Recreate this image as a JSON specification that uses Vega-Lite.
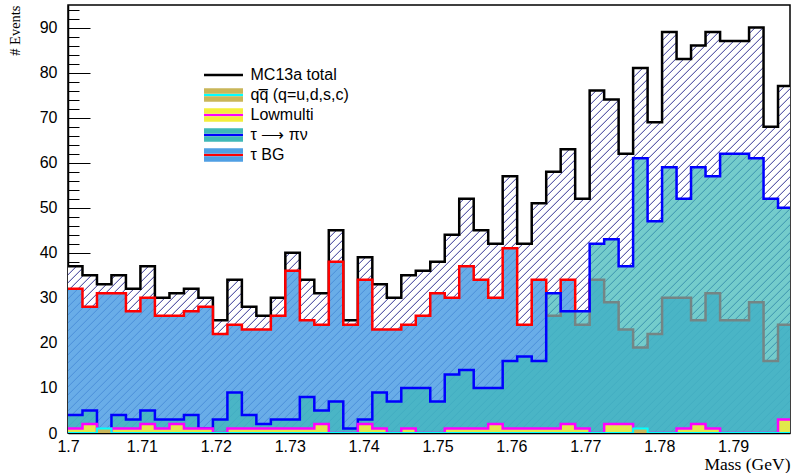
{
  "$schema": "https://vega.github.io/schema/vega-lite/v6.json",
  "width": 722,
  "height": 428,
  "autosize": {"type": "none"},
  "padding": {"left": 68, "top": 5, "right": 1, "bottom": 40},
  "background": "white",
  "config": {
    "font": "Liberation Sans",
    "view": {"stroke": "black", "strokeWidth": 1.5}
  },
  "datasets": {
    "hist": [
      {"m": 1.70000, "total": 37, "tbg": 32, "pinu": 4, "low": 1, "qq": 0},
      {"m": 1.70196, "total": 35, "tbg": 28, "pinu": 5, "low": 2, "qq": 0},
      {"m": 1.70392, "total": 33, "tbg": 31, "pinu": 0, "low": 0, "qq": 1},
      {"m": 1.70588, "total": 35, "tbg": 31, "pinu": 4, "low": 1, "qq": 0},
      {"m": 1.70784, "total": 32, "tbg": 27, "pinu": 3, "low": 1, "qq": 0},
      {"m": 1.70980, "total": 37, "tbg": 30, "pinu": 5, "low": 2, "qq": 0},
      {"m": 1.71176, "total": 30, "tbg": 26, "pinu": 3, "low": 1, "qq": 0},
      {"m": 1.71373, "total": 31, "tbg": 26, "pinu": 3, "low": 2, "qq": 0},
      {"m": 1.71569, "total": 32, "tbg": 27, "pinu": 4, "low": 1, "qq": 0},
      {"m": 1.71765, "total": 30, "tbg": 28, "pinu": 1, "low": 1, "qq": 0},
      {"m": 1.71961, "total": 25, "tbg": 22, "pinu": 3, "low": 0, "qq": 0},
      {"m": 1.72157, "total": 34, "tbg": 24, "pinu": 9, "low": 1, "qq": 0},
      {"m": 1.72353, "total": 28, "tbg": 23, "pinu": 4, "low": 1, "qq": 0},
      {"m": 1.72549, "total": 26, "tbg": 23, "pinu": 2, "low": 1, "qq": 0},
      {"m": 1.72745, "total": 30, "tbg": 26, "pinu": 3, "low": 1, "qq": 0},
      {"m": 1.72941, "total": 40, "tbg": 36, "pinu": 3, "low": 1, "qq": 0},
      {"m": 1.73137, "total": 34, "tbg": 25, "pinu": 8, "low": 1, "qq": 0},
      {"m": 1.73333, "total": 31, "tbg": 24, "pinu": 5, "low": 2, "qq": 0},
      {"m": 1.73529, "total": 45, "tbg": 38, "pinu": 7, "low": 0, "qq": 0},
      {"m": 1.73725, "total": 25, "tbg": 24, "pinu": 1, "low": 0, "qq": 0},
      {"m": 1.73922, "total": 39, "tbg": 34, "pinu": 3, "low": 2, "qq": 0},
      {"m": 1.74118, "total": 33, "tbg": 23, "pinu": 9, "low": 1, "qq": 0},
      {"m": 1.74314, "total": 30, "tbg": 23, "pinu": 7, "low": 0, "qq": 0},
      {"m": 1.74510, "total": 35, "tbg": 24, "pinu": 10, "low": 1, "qq": 0},
      {"m": 1.74706, "total": 36, "tbg": 26, "pinu": 10, "low": 0, "qq": 0},
      {"m": 1.74902, "total": 38, "tbg": 31, "pinu": 7, "low": 0, "qq": 0},
      {"m": 1.75098, "total": 44, "tbg": 30, "pinu": 13, "low": 1, "qq": 0},
      {"m": 1.75294, "total": 52, "tbg": 37, "pinu": 14, "low": 1, "qq": 0},
      {"m": 1.75490, "total": 45, "tbg": 34, "pinu": 10, "low": 1, "qq": 0},
      {"m": 1.75686, "total": 42, "tbg": 30, "pinu": 10, "low": 2, "qq": 0},
      {"m": 1.75882, "total": 57, "tbg": 41, "pinu": 16, "low": 1, "qq": 0},
      {"m": 1.76078, "total": 42, "tbg": 24, "pinu": 17, "low": 1, "qq": 0},
      {"m": 1.76275, "total": 51, "tbg": 34, "pinu": 16, "low": 1, "qq": 0},
      {"m": 1.76471, "total": 58, "tbg": 26, "pinu": 31, "low": 1, "qq": 0},
      {"m": 1.76667, "total": 63, "tbg": 34, "pinu": 27, "low": 2, "qq": 0},
      {"m": 1.76863, "total": 52, "tbg": 24, "pinu": 27, "low": 1, "qq": 0},
      {"m": 1.77059, "total": 76, "tbg": 34, "pinu": 42, "low": 0, "qq": 0},
      {"m": 1.77255, "total": 74, "tbg": 29, "pinu": 43, "low": 2, "qq": 0},
      {"m": 1.77451, "total": 62, "tbg": 23, "pinu": 37, "low": 2, "qq": 0},
      {"m": 1.77647, "total": 81, "tbg": 19, "pinu": 61, "low": 0, "qq": 1},
      {"m": 1.77843, "total": 69, "tbg": 22, "pinu": 47, "low": 0, "qq": 0},
      {"m": 1.78039, "total": 89, "tbg": 30, "pinu": 59, "low": 0, "qq": 0},
      {"m": 1.78235, "total": 83, "tbg": 30, "pinu": 52, "low": 1, "qq": 0},
      {"m": 1.78431, "total": 86, "tbg": 25, "pinu": 59, "low": 2, "qq": 0},
      {"m": 1.78627, "total": 89, "tbg": 31, "pinu": 57, "low": 1, "qq": 0},
      {"m": 1.78824, "total": 87, "tbg": 25, "pinu": 62, "low": 0, "qq": 0},
      {"m": 1.79020, "total": 87, "tbg": 25, "pinu": 62, "low": 0, "qq": 0},
      {"m": 1.79216, "total": 90, "tbg": 29, "pinu": 61, "low": 0, "qq": 0},
      {"m": 1.79412, "total": 68, "tbg": 16, "pinu": 52, "low": 0, "qq": 0},
      {"m": 1.79608, "total": 77, "tbg": 24, "pinu": 50, "low": 3, "qq": 0},
      {"m": 1.79804, "total": 77, "tbg": 24, "pinu": 50, "low": 3, "qq": 0}
    ]
  },
  "data": {"name": "hist"},
  "transform": [
    {"fold": ["total", "tbg", "pinu", "low", "qq"], "as": ["part", "n"]}
  ],
  "encoding": {
    "x": {
      "field": "m",
      "type": "quantitative",
      "scale": {"domain": [1.7, 1.7977], "nice": false, "zero": false},
      "axis": {
        "values": [1.7, 1.702, 1.704, 1.706, 1.708, 1.71, 1.712, 1.714, 1.716, 1.718, 1.72, 1.722, 1.724, 1.726, 1.728, 1.73, 1.732, 1.734, 1.736, 1.738, 1.74, 1.742, 1.744, 1.746, 1.748, 1.75, 1.752, 1.754, 1.756, 1.758, 1.76, 1.762, 1.764, 1.766, 1.768, 1.77, 1.772, 1.774, 1.776, 1.778, 1.78, 1.782, 1.784, 1.786, 1.788, 1.79, 1.792, 1.794, 1.796],
        "labelExpr": "abs(datum.value*100 - round(datum.value*100)) < 0.01 ? (round(datum.value*100) % 10 == 0 ? format(datum.value, '.1f') : format(datum.value, '.2f')) : ''",
        "tickSize": {"condition": {"test": "abs(datum.value*100 - round(datum.value*100)) < 0.01", "value": -12}, "value": -6},
        "tickColor": "black",
        "tickWidth": 1,
        "domainColor": "black",
        "domainWidth": 1.5,
        "grid": false,
        "labelFont": "Liberation Sans",
        "labelFontSize": 16,
        "labelColor": "black",
        "labelPadding": 17,
        "labelFlush": false,
        "labelOverlap": false,
        "title": "Mass (GeV)",
        "titleFont": "Liberation Serif",
        "titleFontSize": 17.5,
        "titleFontWeight": "normal",
        "titleColor": "black",
        "titleAlign": "right",
        "titleBaseline": "alphabetic",
        "titleX": 722,
        "titleY": 36
      }
    },
    "y": {
      "field": "n",
      "type": "quantitative",
      "scale": {"domain": [0, 95], "nice": false},
      "axis": {
        "values": [0, 2, 4, 6, 8, 10, 12, 14, 16, 18, 20, 22, 24, 26, 28, 30, 32, 34, 36, 38, 40, 42, 44, 46, 48, 50, 52, 54, 56, 58, 60, 62, 64, 66, 68, 70, 72, 74, 76, 78, 80, 82, 84, 86, 88, 90, 92, 94],
        "labelExpr": "datum.value % 10 == 0 ? datum.label : ''",
        "tickSize": {"condition": {"test": "datum.value % 10 == 0", "value": -22}, "value": -11},
        "tickColor": "black",
        "tickWidth": 1,
        "domainColor": "black",
        "domainWidth": 1.5,
        "grid": false,
        "labelFont": "Liberation Sans",
        "labelFontSize": 16,
        "labelColor": "black",
        "labelPadding": 33,
        "labelOverlap": false,
        "title": "# Events",
        "titleFont": "Liberation Serif",
        "titleFontSize": 14.5,
        "titleFontWeight": "normal",
        "titleColor": "black",
        "titleAngle": 270,
        "titleAlign": "right",
        "titleBaseline": "middle",
        "titleX": -53,
        "titleY": 0
      }
    }
  },
  "layer": [
    {
      "transform": [{"filter": "datum.part == 'total'"}],
      "mark": {
        "type": "area",
        "interpolate": "step-after",
        "clip": true,
        "fill": {
          "gradient": "linear",
          "x1": 0, "y1": 0, "x2": 1.3138, "y2": 0.7353,
          "stops": [
            {"offset":0,"color":"#fff"},{"offset":0.0048,"color":"#fff"},{"offset":0.0064,"color":"#2b2b8f"},
            {"offset":0.0064,"color":"#fff"},{"offset":0.0112,"color":"#fff"},{"offset":0.0128,"color":"#2b2b8f"},
            {"offset":0.0128,"color":"#fff"},{"offset":0.0176,"color":"#fff"},{"offset":0.0192,"color":"#2b2b8f"},
            {"offset":0.0192,"color":"#fff"},{"offset":0.024,"color":"#fff"},{"offset":0.0256,"color":"#2b2b8f"},
            {"offset":0.0256,"color":"#fff"},{"offset":0.0304,"color":"#fff"},{"offset":0.032,"color":"#2b2b8f"},
            {"offset":0.032,"color":"#fff"},{"offset":0.0368,"color":"#fff"},{"offset":0.0384,"color":"#2b2b8f"},
            {"offset":0.0384,"color":"#fff"},{"offset":0.0432,"color":"#fff"},{"offset":0.0448,"color":"#2b2b8f"},
            {"offset":0.0448,"color":"#fff"},{"offset":0.0496,"color":"#fff"},{"offset":0.0512,"color":"#2b2b8f"},
            {"offset":0.0512,"color":"#fff"},{"offset":0.056,"color":"#fff"},{"offset":0.0576,"color":"#2b2b8f"},
            {"offset":0.0576,"color":"#fff"},{"offset":0.0624,"color":"#fff"},{"offset":0.064,"color":"#2b2b8f"},
            {"offset":0.064,"color":"#fff"},{"offset":0.0688,"color":"#fff"},{"offset":0.0704,"color":"#2b2b8f"},
            {"offset":0.0704,"color":"#fff"},{"offset":0.0752,"color":"#fff"},{"offset":0.0768,"color":"#2b2b8f"},
            {"offset":0.0768,"color":"#fff"},{"offset":0.0816,"color":"#fff"},{"offset":0.0832,"color":"#2b2b8f"},
            {"offset":0.0832,"color":"#fff"},{"offset":0.088,"color":"#fff"},{"offset":0.0896,"color":"#2b2b8f"},
            {"offset":0.0896,"color":"#fff"},{"offset":0.0944,"color":"#fff"},{"offset":0.096,"color":"#2b2b8f"},
            {"offset":0.096,"color":"#fff"},{"offset":0.1008,"color":"#fff"},{"offset":0.1024,"color":"#2b2b8f"},
            {"offset":0.1024,"color":"#fff"},{"offset":0.1072,"color":"#fff"},{"offset":0.1088,"color":"#2b2b8f"},
            {"offset":0.1088,"color":"#fff"},{"offset":0.1136,"color":"#fff"},{"offset":0.1152,"color":"#2b2b8f"},
            {"offset":0.1152,"color":"#fff"},{"offset":0.12,"color":"#fff"},{"offset":0.1216,"color":"#2b2b8f"},
            {"offset":0.1216,"color":"#fff"},{"offset":0.1264,"color":"#fff"},{"offset":0.128,"color":"#2b2b8f"},
            {"offset":0.128,"color":"#fff"},{"offset":0.1328,"color":"#fff"},{"offset":0.1344,"color":"#2b2b8f"},
            {"offset":0.1344,"color":"#fff"},{"offset":0.1392,"color":"#fff"},{"offset":0.1408,"color":"#2b2b8f"},
            {"offset":0.1408,"color":"#fff"},{"offset":0.1456,"color":"#fff"},{"offset":0.1472,"color":"#2b2b8f"},
            {"offset":0.1472,"color":"#fff"},{"offset":0.152,"color":"#fff"},{"offset":0.1536,"color":"#2b2b8f"},
            {"offset":0.1536,"color":"#fff"},{"offset":0.1584,"color":"#fff"},{"offset":0.16,"color":"#2b2b8f"},
            {"offset":0.16,"color":"#fff"},{"offset":0.1648,"color":"#fff"},{"offset":0.1664,"color":"#2b2b8f"},
            {"offset":0.1664,"color":"#fff"},{"offset":0.1712,"color":"#fff"},{"offset":0.1728,"color":"#2b2b8f"},
            {"offset":0.1728,"color":"#fff"},{"offset":0.1776,"color":"#fff"},{"offset":0.1792,"color":"#2b2b8f"},
            {"offset":0.1792,"color":"#fff"},{"offset":0.184,"color":"#fff"},{"offset":0.1856,"color":"#2b2b8f"},
            {"offset":0.1856,"color":"#fff"},{"offset":0.1904,"color":"#fff"},{"offset":0.192,"color":"#2b2b8f"},
            {"offset":0.192,"color":"#fff"},{"offset":0.1968,"color":"#fff"},{"offset":0.1984,"color":"#2b2b8f"},
            {"offset":0.1984,"color":"#fff"},{"offset":0.2032,"color":"#fff"},{"offset":0.2048,"color":"#2b2b8f"},
            {"offset":0.2048,"color":"#fff"},{"offset":0.2096,"color":"#fff"},{"offset":0.2112,"color":"#2b2b8f"},
            {"offset":0.2112,"color":"#fff"},{"offset":0.216,"color":"#fff"},{"offset":0.2176,"color":"#2b2b8f"},
            {"offset":0.2176,"color":"#fff"},{"offset":0.2224,"color":"#fff"},{"offset":0.224,"color":"#2b2b8f"},
            {"offset":0.224,"color":"#fff"},{"offset":0.2288,"color":"#fff"},{"offset":0.2304,"color":"#2b2b8f"},
            {"offset":0.2304,"color":"#fff"},{"offset":0.2352,"color":"#fff"},{"offset":0.2368,"color":"#2b2b8f"},
            {"offset":0.2368,"color":"#fff"},{"offset":0.2416,"color":"#fff"},{"offset":0.2432,"color":"#2b2b8f"},
            {"offset":0.2432,"color":"#fff"},{"offset":0.248,"color":"#fff"},{"offset":0.2496,"color":"#2b2b8f"},
            {"offset":0.2496,"color":"#fff"},{"offset":0.2544,"color":"#fff"},{"offset":0.256,"color":"#2b2b8f"},
            {"offset":0.256,"color":"#fff"},{"offset":0.2608,"color":"#fff"},{"offset":0.2624,"color":"#2b2b8f"},
            {"offset":0.2624,"color":"#fff"},{"offset":0.2672,"color":"#fff"},{"offset":0.2688,"color":"#2b2b8f"},
            {"offset":0.2688,"color":"#fff"},{"offset":0.2736,"color":"#fff"},{"offset":0.2752,"color":"#2b2b8f"},
            {"offset":0.2752,"color":"#fff"},{"offset":0.28,"color":"#fff"},{"offset":0.2816,"color":"#2b2b8f"},
            {"offset":0.2816,"color":"#fff"},{"offset":0.2864,"color":"#fff"},{"offset":0.288,"color":"#2b2b8f"},
            {"offset":0.288,"color":"#fff"},{"offset":0.2928,"color":"#fff"},{"offset":0.2944,"color":"#2b2b8f"},
            {"offset":0.2944,"color":"#fff"},{"offset":0.2992,"color":"#fff"},{"offset":0.3008,"color":"#2b2b8f"},
            {"offset":0.3008,"color":"#fff"},{"offset":0.3056,"color":"#fff"},{"offset":0.3072,"color":"#2b2b8f"},
            {"offset":0.3072,"color":"#fff"},{"offset":0.312,"color":"#fff"},{"offset":0.3136,"color":"#2b2b8f"},
            {"offset":0.3136,"color":"#fff"},{"offset":0.3184,"color":"#fff"},{"offset":0.32,"color":"#2b2b8f"},
            {"offset":0.32,"color":"#fff"},{"offset":0.3248,"color":"#fff"},{"offset":0.3264,"color":"#2b2b8f"},
            {"offset":0.3264,"color":"#fff"},{"offset":0.3312,"color":"#fff"},{"offset":0.3328,"color":"#2b2b8f"},
            {"offset":0.3328,"color":"#fff"},{"offset":0.3376,"color":"#fff"},{"offset":0.3392,"color":"#2b2b8f"},
            {"offset":0.3392,"color":"#fff"},{"offset":0.344,"color":"#fff"},{"offset":0.3456,"color":"#2b2b8f"},
            {"offset":0.3456,"color":"#fff"},{"offset":0.3504,"color":"#fff"},{"offset":0.352,"color":"#2b2b8f"},
            {"offset":0.352,"color":"#fff"},{"offset":0.3568,"color":"#fff"},{"offset":0.3584,"color":"#2b2b8f"},
            {"offset":0.3584,"color":"#fff"},{"offset":0.3632,"color":"#fff"},{"offset":0.3648,"color":"#2b2b8f"},
            {"offset":0.3648,"color":"#fff"},{"offset":0.3696,"color":"#fff"},{"offset":0.3712,"color":"#2b2b8f"},
            {"offset":0.3712,"color":"#fff"},{"offset":0.376,"color":"#fff"},{"offset":0.3776,"color":"#2b2b8f"},
            {"offset":0.3776,"color":"#fff"},{"offset":0.3824,"color":"#fff"},{"offset":0.384,"color":"#2b2b8f"},
            {"offset":0.384,"color":"#fff"},{"offset":0.3888,"color":"#fff"},{"offset":0.3904,"color":"#2b2b8f"},
            {"offset":0.3904,"color":"#fff"},{"offset":0.3952,"color":"#fff"},{"offset":0.3968,"color":"#2b2b8f"},
            {"offset":0.3968,"color":"#fff"},{"offset":0.4016,"color":"#fff"},{"offset":0.4032,"color":"#2b2b8f"},
            {"offset":0.4032,"color":"#fff"},{"offset":0.408,"color":"#fff"},{"offset":0.4096,"color":"#2b2b8f"},
            {"offset":0.4096,"color":"#fff"},{"offset":0.4144,"color":"#fff"},{"offset":0.416,"color":"#2b2b8f"},
            {"offset":0.416,"color":"#fff"},{"offset":0.4208,"color":"#fff"},{"offset":0.4224,"color":"#2b2b8f"},
            {"offset":0.4224,"color":"#fff"},{"offset":0.4272,"color":"#fff"},{"offset":0.4288,"color":"#2b2b8f"},
            {"offset":0.4288,"color":"#fff"},{"offset":0.4336,"color":"#fff"},{"offset":0.4352,"color":"#2b2b8f"},
            {"offset":0.4352,"color":"#fff"},{"offset":0.44,"color":"#fff"},{"offset":0.4416,"color":"#2b2b8f"},
            {"offset":0.4416,"color":"#fff"},{"offset":0.4464,"color":"#fff"},{"offset":0.448,"color":"#2b2b8f"},
            {"offset":0.448,"color":"#fff"},{"offset":0.4528,"color":"#fff"},{"offset":0.4544,"color":"#2b2b8f"},
            {"offset":0.4544,"color":"#fff"},{"offset":0.4592,"color":"#fff"},{"offset":0.4608,"color":"#2b2b8f"},
            {"offset":0.4608,"color":"#fff"},{"offset":0.4656,"color":"#fff"},{"offset":0.4672,"color":"#2b2b8f"},
            {"offset":0.4672,"color":"#fff"},{"offset":0.472,"color":"#fff"},{"offset":0.4736,"color":"#2b2b8f"},
            {"offset":0.4736,"color":"#fff"},{"offset":0.4784,"color":"#fff"},{"offset":0.48,"color":"#2b2b8f"},
            {"offset":0.48,"color":"#fff"},{"offset":0.4848,"color":"#fff"},{"offset":0.4864,"color":"#2b2b8f"},
            {"offset":0.4864,"color":"#fff"},{"offset":0.4912,"color":"#fff"},{"offset":0.4928,"color":"#2b2b8f"},
            {"offset":0.4928,"color":"#fff"},{"offset":0.4976,"color":"#fff"},{"offset":0.4992,"color":"#2b2b8f"},
            {"offset":0.4992,"color":"#fff"},{"offset":0.504,"color":"#fff"},{"offset":0.5056,"color":"#2b2b8f"},
            {"offset":0.5056,"color":"#fff"},{"offset":0.5104,"color":"#fff"},{"offset":0.512,"color":"#2b2b8f"},
            {"offset":0.512,"color":"#fff"},{"offset":0.5168,"color":"#fff"},{"offset":0.5184,"color":"#2b2b8f"},
            {"offset":0.5184,"color":"#fff"},{"offset":0.5232,"color":"#fff"},{"offset":0.5248,"color":"#2b2b8f"},
            {"offset":0.5248,"color":"#fff"},{"offset":0.5296,"color":"#fff"},{"offset":0.5312,"color":"#2b2b8f"},
            {"offset":0.5312,"color":"#fff"},{"offset":0.536,"color":"#fff"},{"offset":0.5376,"color":"#2b2b8f"},
            {"offset":0.5376,"color":"#fff"},{"offset":0.5424,"color":"#fff"},{"offset":0.544,"color":"#2b2b8f"},
            {"offset":0.544,"color":"#fff"},{"offset":0.5488,"color":"#fff"},{"offset":0.5504,"color":"#2b2b8f"},
            {"offset":0.5504,"color":"#fff"},{"offset":0.5552,"color":"#fff"},{"offset":0.5568,"color":"#2b2b8f"},
            {"offset":0.5568,"color":"#fff"},{"offset":0.5616,"color":"#fff"},{"offset":0.5632,"color":"#2b2b8f"},
            {"offset":0.5632,"color":"#fff"},{"offset":0.568,"color":"#fff"},{"offset":0.5696,"color":"#2b2b8f"},
            {"offset":0.5696,"color":"#fff"},{"offset":0.5744,"color":"#fff"},{"offset":0.576,"color":"#2b2b8f"},
            {"offset":0.576,"color":"#fff"},{"offset":0.5808,"color":"#fff"},{"offset":0.5824,"color":"#2b2b8f"},
            {"offset":0.5824,"color":"#fff"},{"offset":0.5872,"color":"#fff"},{"offset":0.5888,"color":"#2b2b8f"},
            {"offset":0.5888,"color":"#fff"},{"offset":0.5936,"color":"#fff"},{"offset":0.5952,"color":"#2b2b8f"},
            {"offset":0.5952,"color":"#fff"},{"offset":0.6,"color":"#fff"},{"offset":0.6016,"color":"#2b2b8f"},
            {"offset":0.6016,"color":"#fff"},{"offset":0.6064,"color":"#fff"},{"offset":0.608,"color":"#2b2b8f"},
            {"offset":0.608,"color":"#fff"},{"offset":0.6128,"color":"#fff"},{"offset":0.6144,"color":"#2b2b8f"},
            {"offset":0.6144,"color":"#fff"},{"offset":0.6192,"color":"#fff"},{"offset":0.6208,"color":"#2b2b8f"},
            {"offset":0.6208,"color":"#fff"},{"offset":0.6256,"color":"#fff"},{"offset":0.6272,"color":"#2b2b8f"},
            {"offset":0.6272,"color":"#fff"},{"offset":0.632,"color":"#fff"},{"offset":0.6336,"color":"#2b2b8f"},
            {"offset":0.6336,"color":"#fff"},{"offset":0.6384,"color":"#fff"},{"offset":0.64,"color":"#2b2b8f"},
            {"offset":0.64,"color":"#fff"},{"offset":0.6448,"color":"#fff"},{"offset":0.6464,"color":"#2b2b8f"},
            {"offset":0.6464,"color":"#fff"},{"offset":0.6512,"color":"#fff"},{"offset":0.6528,"color":"#2b2b8f"},
            {"offset":0.6528,"color":"#fff"},{"offset":0.6576,"color":"#fff"},{"offset":0.6592,"color":"#2b2b8f"},
            {"offset":0.6592,"color":"#fff"},{"offset":0.664,"color":"#fff"},{"offset":0.6656,"color":"#2b2b8f"},
            {"offset":0.6656,"color":"#fff"},{"offset":0.6704,"color":"#fff"},{"offset":0.672,"color":"#2b2b8f"},
            {"offset":0.672,"color":"#fff"},{"offset":0.6768,"color":"#fff"},{"offset":0.6784,"color":"#2b2b8f"},
            {"offset":0.6784,"color":"#fff"},{"offset":0.6832,"color":"#fff"},{"offset":0.6848,"color":"#2b2b8f"},
            {"offset":0.6848,"color":"#fff"},{"offset":0.6896,"color":"#fff"},{"offset":0.6912,"color":"#2b2b8f"},
            {"offset":0.6912,"color":"#fff"},{"offset":0.696,"color":"#fff"},{"offset":0.6976,"color":"#2b2b8f"},
            {"offset":0.6976,"color":"#fff"},{"offset":0.7024,"color":"#fff"},{"offset":0.704,"color":"#2b2b8f"},
            {"offset":0.704,"color":"#fff"},{"offset":0.7088,"color":"#fff"},{"offset":0.7104,"color":"#2b2b8f"},
            {"offset":0.7104,"color":"#fff"},{"offset":0.7152,"color":"#fff"},{"offset":0.7168,"color":"#2b2b8f"},
            {"offset":0.7168,"color":"#fff"},{"offset":0.7216,"color":"#fff"},{"offset":0.7232,"color":"#2b2b8f"},
            {"offset":0.7232,"color":"#fff"},{"offset":0.728,"color":"#fff"},{"offset":0.7296,"color":"#2b2b8f"},
            {"offset":0.7296,"color":"#fff"},{"offset":0.7344,"color":"#fff"},{"offset":0.736,"color":"#2b2b8f"},
            {"offset":0.736,"color":"#fff"},{"offset":0.7408,"color":"#fff"},{"offset":0.7424,"color":"#2b2b8f"},
            {"offset":0.7424,"color":"#fff"},{"offset":0.7472,"color":"#fff"},{"offset":0.7488,"color":"#2b2b8f"},
            {"offset":0.7488,"color":"#fff"},{"offset":0.7536,"color":"#fff"},{"offset":0.7552,"color":"#2b2b8f"},
            {"offset":0.7552,"color":"#fff"},{"offset":0.76,"color":"#fff"},{"offset":0.7616,"color":"#2b2b8f"},
            {"offset":0.7616,"color":"#fff"},{"offset":0.7664,"color":"#fff"},{"offset":0.768,"color":"#2b2b8f"},
            {"offset":0.768,"color":"#fff"},{"offset":0.7728,"color":"#fff"},{"offset":0.7744,"color":"#2b2b8f"},
            {"offset":0.7744,"color":"#fff"},{"offset":0.7792,"color":"#fff"},{"offset":0.7808,"color":"#2b2b8f"},
            {"offset":0.7808,"color":"#fff"},{"offset":0.7856,"color":"#fff"},{"offset":0.7872,"color":"#2b2b8f"},
            {"offset":0.7872,"color":"#fff"},{"offset":0.792,"color":"#fff"},{"offset":0.7936,"color":"#2b2b8f"},
            {"offset":0.7936,"color":"#fff"},{"offset":0.7984,"color":"#fff"},{"offset":0.8,"color":"#2b2b8f"},
            {"offset":0.8,"color":"#fff"},{"offset":0.8048,"color":"#fff"},{"offset":0.8064,"color":"#2b2b8f"},
            {"offset":0.8064,"color":"#fff"},{"offset":0.8112,"color":"#fff"},{"offset":0.8128,"color":"#2b2b8f"},
            {"offset":0.8128,"color":"#fff"},{"offset":0.8176,"color":"#fff"},{"offset":0.8192,"color":"#2b2b8f"},
            {"offset":0.8192,"color":"#fff"},{"offset":0.824,"color":"#fff"},{"offset":0.8256,"color":"#2b2b8f"},
            {"offset":0.8256,"color":"#fff"},{"offset":0.8304,"color":"#fff"},{"offset":0.832,"color":"#2b2b8f"},
            {"offset":0.832,"color":"#fff"},{"offset":0.8368,"color":"#fff"},{"offset":0.8384,"color":"#2b2b8f"},
            {"offset":0.8384,"color":"#fff"},{"offset":0.8432,"color":"#fff"},{"offset":0.8448,"color":"#2b2b8f"},
            {"offset":0.8448,"color":"#fff"},{"offset":0.8496,"color":"#fff"},{"offset":0.8512,"color":"#2b2b8f"},
            {"offset":0.8512,"color":"#fff"},{"offset":0.856,"color":"#fff"},{"offset":0.8576,"color":"#2b2b8f"},
            {"offset":0.8576,"color":"#fff"},{"offset":0.8624,"color":"#fff"},{"offset":0.864,"color":"#2b2b8f"},
            {"offset":0.864,"color":"#fff"},{"offset":0.8688,"color":"#fff"},{"offset":0.8704,"color":"#2b2b8f"},
            {"offset":0.8704,"color":"#fff"},{"offset":0.8752,"color":"#fff"},{"offset":0.8768,"color":"#2b2b8f"},
            {"offset":0.8768,"color":"#fff"},{"offset":0.8816,"color":"#fff"},{"offset":0.8832,"color":"#2b2b8f"},
            {"offset":0.8832,"color":"#fff"},{"offset":0.888,"color":"#fff"},{"offset":0.8896,"color":"#2b2b8f"},
            {"offset":0.8896,"color":"#fff"},{"offset":0.8944,"color":"#fff"},{"offset":0.896,"color":"#2b2b8f"},
            {"offset":0.896,"color":"#fff"},{"offset":0.9008,"color":"#fff"},{"offset":0.9024,"color":"#2b2b8f"},
            {"offset":0.9024,"color":"#fff"},{"offset":0.9072,"color":"#fff"},{"offset":0.9088,"color":"#2b2b8f"}
          ]
        }
      }
    },
    {
      "transform": [{"filter": "datum.part == 'total'"}],
      "mark": {"type": "line", "interpolate": "step-after", "clip": true, "strokeWidth": 2.5},
      "encoding": {
        "stroke": {
          "datum": "MC13a total",
          "type": "nominal",
          "scale": {
            "domain": ["MC13a total", "qq̅ (q=u,d,s,c)", "Lowmulti", "τ ⟶ πν", "τ BG"],
            "range": ["#000000", "#00ffff", "#ff00ff", "#0000ff", "#ff0000"]
          },
          "legend": {
            "orient": "none",
            "legendX": 136,
            "legendY": 60,
            "title": null,
            "padding": 0,
            "rowPadding": 0,
            "clipHeight": 20,
            "symbolType": "M-2.25,0H2.25",
            "symbolSize": 300,
            "symbolStrokeWidth": 2.5,
            "symbolOffset": 9.5,
            "labelOffset": 17,
            "labelFont": "Liberation Sans",
            "labelFontSize": 16,
            "labelColor": "black"
          }
        }
      }
    },
    {
      "transform": [{"filter": "datum.part == 'tbg'"}],
      "mark": {"type": "area", "interpolate": "step-after", "clip": true, "fillOpacity": 0.85},
      "encoding": {
        "fill": {
          "datum": "tbg",
          "type": "nominal",
          "scale": {
            "domain": ["total", "qq", "low", "pinu", "tbg"],
            "range": ["transparent", "#c9b659", "#f3ee3c", "#3fb8b8", "#4f9fe4"]
          },
          "legend": {
            "orient": "none",
            "legendX": 136,
            "legendY": 60,
            "title": null,
            "padding": 0,
            "rowPadding": 0,
            "clipHeight": 20,
            "symbolType": "M-2.25,-0.77H2.25V-0.13H-2.25Z M-2.25,0.13H2.25V0.77H-2.25Z",
            "symbolSize": 300,
            "symbolStrokeWidth": 2.5,
            "symbolStrokeColor": "transparent",
            "symbolOffset": 9.5,
            "labelOffset": 17,
            "labelExpr": "''",
            "labelFont": "Liberation Sans",
            "labelFontSize": 16
          }
        }
      }
    },
    {
      "transform": [{"filter": "datum.part == 'tbg'"}],
      "mark": {"type": "line", "interpolate": "step-after", "clip": true, "strokeWidth": 2.5},
      "encoding": {"stroke": {"datum": "τ BG", "type": "nominal"}}
    },
    {
      "transform": [{"filter": "datum.part == 'pinu'"}],
      "mark": {"type": "area", "interpolate": "step-after", "clip": true, "fillOpacity": 0.72},
      "encoding": {"fill": {"datum": "pinu", "type": "nominal"}}
    },
    {
      "transform": [{"filter": "datum.part == 'pinu'"}],
      "mark": {"type": "line", "interpolate": "step-after", "clip": true, "strokeWidth": 2.5},
      "encoding": {"stroke": {"datum": "τ ⟶ πν", "type": "nominal"}}
    },
    {
      "transform": [{"filter": "datum.part == 'low'"}],
      "mark": {"type": "area", "interpolate": "step-after", "clip": true, "fillOpacity": 0.9},
      "encoding": {"fill": {"datum": "low", "type": "nominal"}}
    },
    {
      "transform": [{"filter": "datum.part == 'low'"}],
      "mark": {"type": "line", "interpolate": "step-after", "clip": true, "strokeWidth": 2.5},
      "encoding": {"stroke": {"datum": "Lowmulti", "type": "nominal"}}
    },
    {
      "transform": [{"filter": "datum.part == 'qq'"}],
      "mark": {"type": "area", "interpolate": "step-after", "clip": true},
      "encoding": {"fill": {"datum": "qq", "type": "nominal"}}
    },
    {
      "transform": [{"filter": "datum.part == 'qq'"}],
      "mark": {"type": "line", "interpolate": "step-after", "clip": true, "strokeWidth": 2},
      "encoding": {"stroke": {"datum": "qq̅ (q=u,d,s,c)", "type": "nominal"}}
    }
  ]
}
